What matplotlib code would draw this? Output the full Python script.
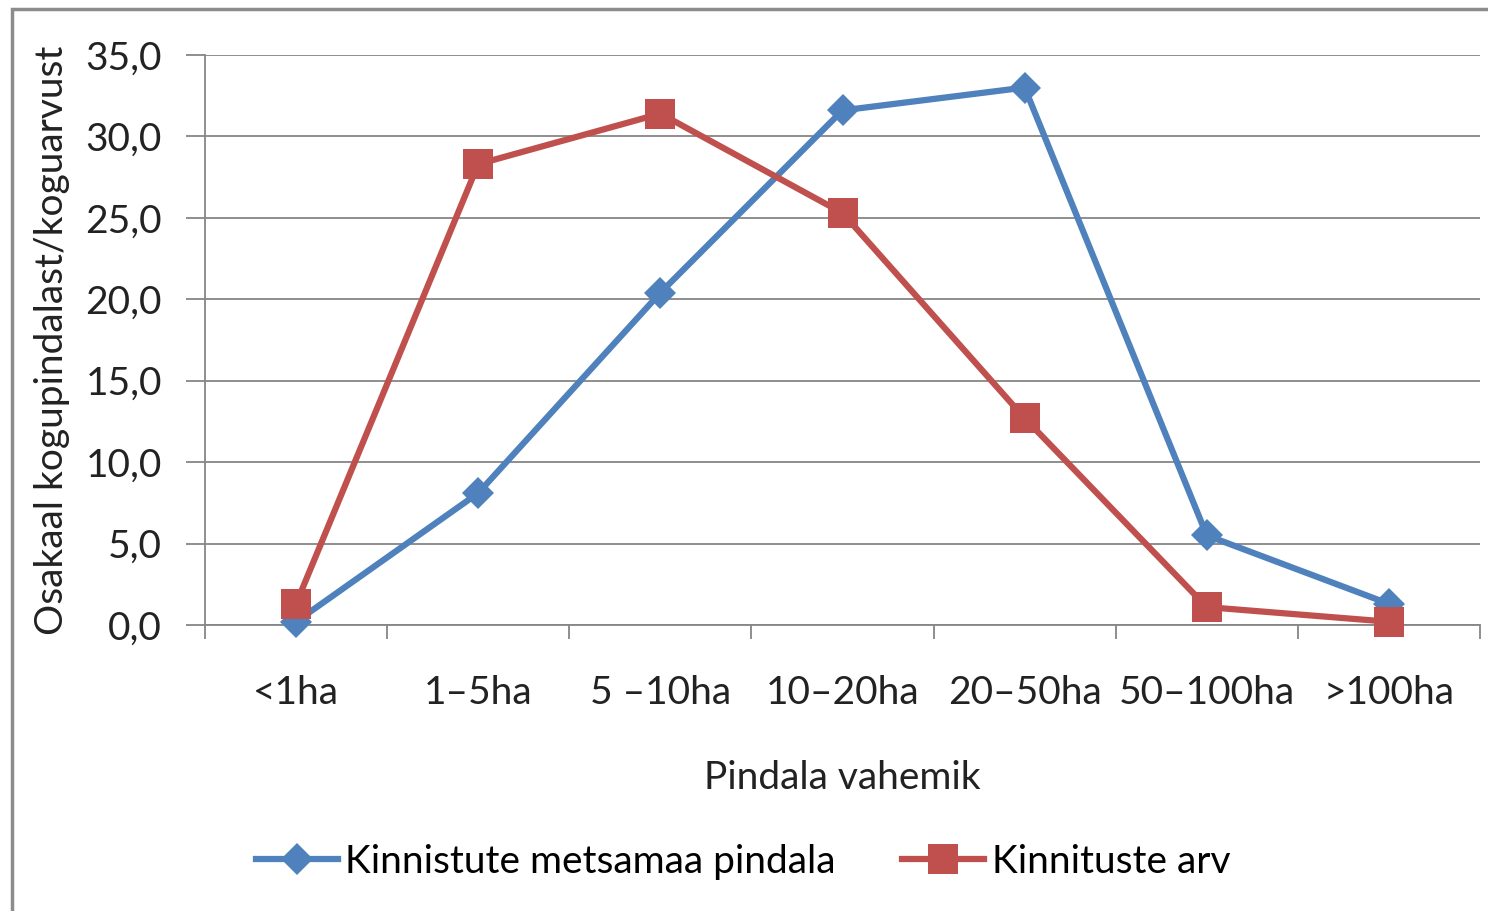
import matplotlib
matplotlib.use("Agg")
import matplotlib.pyplot as plt
from matplotlib.lines import Line2D
from matplotlib.patches import Rectangle

categories = ["<1ha", "1–5ha", "5 –10ha", "10–20ha", "20–50ha", "50–100ha", ">100ha"]
metsamaa_pindala = [0.2, 8.1, 20.4, 31.6, 33.0, 5.5, 1.3]
kinnistuste_arv = [1.3, 28.3, 31.4, 25.3, 12.7, 1.1, 0.2]
y_ticks = [0, 5, 10, 15, 20, 25, 30, 35]
series_names = ["Kinnistute metsamaa pindala", "Kinnituste arv"]

plt.rcParams['font.family'] = ['Lato', 'DejaVu Sans']
BLUE = "#4F81BD"
RED = "#C0504D"
GRID = "#868686"
FS = 28
LW = 4.5

fig = plt.figure(figsize=(14.88, 9.11), dpi=100)
fig.patches.append(Rectangle((12/1488, -0.1), 1.2, 1.1 - 9/911, transform=fig.transFigure,
                             fill=False, edgecolor="#8c8c8c", linewidth=2.5))
ax = fig.add_axes([205/1488, (911-625)/911, (1480-205)/1488, (625-55)/911])

x = list(range(len(categories)))
ax.plot(x, metsamaa_pindala, color=BLUE, lw=LW, marker="D", markersize=16,
        markeredgewidth=0, zorder=3, clip_on=False)
ax.plot(x, kinnistuste_arv, color=RED, lw=LW, marker="s", markersize=21,
        markeredgewidth=0, zorder=4, clip_on=False)

ax.set_xlim(-0.5, len(categories) - 0.5)
ax.set_ylim(0, 35)
ax.set_yticks(y_ticks)
ax.set_yticklabels([f"{v:.1f}".replace(".", ",") for v in y_ticks], fontsize=FS, color="#222222")
ax.set_xticks(x)
ax.set_xticklabels(categories, fontsize=FS, color="#222222")
ax.set_xticks([i - 0.5 for i in range(len(categories) + 1)], minor=True)
ax.tick_params(axis="x", which="major", length=0, pad=36)
ax.tick_params(axis="x", which="minor", length=10, color=GRID, width=1.3)
ax.tick_params(axis="y", length=14, color=GRID, width=1.3, pad=17)
ax.yaxis.grid(True, color=GRID, lw=1.3)
ax.set_axisbelow(True)
for s in ["top", "right"]:
    ax.spines[s].set_visible(False)
ax.spines["left"].set_color(GRID)
ax.spines["bottom"].set_color(GRID)
ax.spines["left"].set_linewidth(1.3)
ax.spines["bottom"].set_linewidth(1.3)

ax.set_xlabel("Pindala vahemik", fontsize=FS, color="#222222", labelpad=35)
ax.set_ylabel("Osakaal kogupindalast/koguarvust", fontsize=FS, color="#222222", labelpad=11)

handles = [
    Line2D([], [], color=BLUE, lw=LW, marker="D", markersize=16, markeredgewidth=0),
    Line2D([], [], color=RED, lw=LW, marker="s", markersize=21, markeredgewidth=0),
]
fig.legend(handles, series_names, loc="center", bbox_to_anchor=(743/1488, 1 - 862/911),
           ncol=2, frameon=False, fontsize=FS, handlelength=2.1, handletextpad=0.2,
           columnspacing=1.7)

fig.savefig("out.png", dpi=100)
